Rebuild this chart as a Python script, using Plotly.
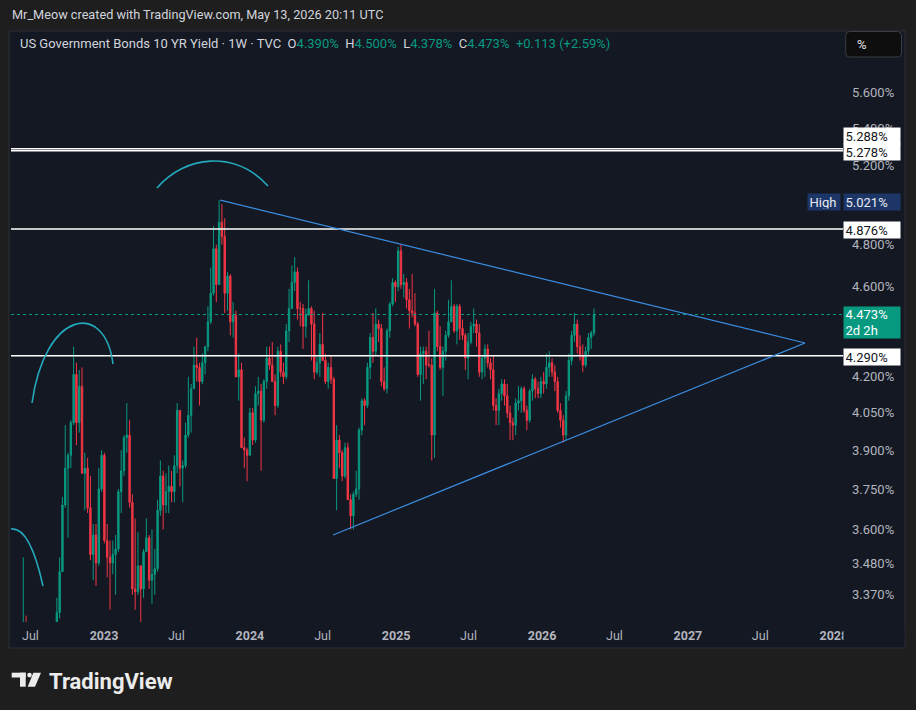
import math
import pandas as pd
import plotly.graph_objects as go

# ---------------- data (weekly candles, % yield) ----------------
first_week = "2022-05-16"
last_week = "2026-05-11"

open_2022 = [2.93,2.79,2.74,2.94,3.16,3.24,3.13,2.89,3.08,2.93,2.77,2.65,2.83,2.84,2.98,3.04,3.19,3.31,3.45,3.69,3.83,3.88,4.01,4.21,4.01,4.16,3.81,3.83,3.68,3.51,3.58,3.48,3.75]
high_2022 = [2.99,2.86,2.96,3.18,3.50,3.30,3.20,3.10,3.10,3.07,2.85,2.87,2.90,3.01,3.11,3.26,3.36,3.50,3.72,4.00,3.89,4.02,4.33,4.26,4.23,4.24,3.89,3.87,3.80,3.62,3.62,3.83,3.90]
low_2022 = [2.78,2.71,2.73,2.94,3.14,3.00,2.79,2.76,2.86,2.75,2.64,2.52,2.74,2.77,2.98,3.04,3.17,3.29,3.45,3.68,3.57,3.83,4.00,3.92,3.97,3.81,3.67,3.66,3.49,3.42,3.40,3.47,3.74]
close_2022 = [2.79,2.74,2.94,3.16,3.24,3.13,2.89,3.08,2.93,2.77,2.65,2.83,2.84,2.98,3.04,3.19,3.31,3.45,3.69,3.83,3.88,4.01,4.21,4.01,4.16,3.81,3.83,3.68,3.51,3.58,3.48,3.75,3.88]

open_2023 = [3.88,3.56,3.50,3.48,3.51,3.53,3.74,3.82,3.95,3.96,3.70,3.39,3.38,3.47,3.39,3.52,3.57,3.42,3.44,3.46,3.67,3.80,3.69,3.74,3.76,3.74,3.84,4.06,3.83,3.84,3.96,4.04,4.15,4.25,4.24,4.18,4.26,4.33,4.44,4.57,4.78,4.61,4.91,4.84,4.57,4.65,4.44,4.47,4.20,4.23,3.91,3.90]
high_2023 = [3.89,3.62,3.56,3.56,3.58,3.75,3.90,3.96,4.09,4.02,3.73,3.64,3.59,3.47,3.53,3.64,3.58,3.60,3.53,3.71,3.86,3.82,3.81,3.84,3.82,3.88,4.09,4.06,3.86,4.01,4.20,4.17,4.33,4.37,4.26,4.30,4.33,4.51,4.69,4.89,4.80,5.021,5.00,4.93,4.67,4.66,4.53,4.49,4.30,4.26,3.95,3.91]
low_2023 = [3.55,3.43,3.32,3.44,3.37,3.52,3.66,3.80,3.89,3.68,3.37,3.32,3.37,3.25,3.36,3.52,3.39,3.34,3.37,3.45,3.65,3.60,3.66,3.66,3.70,3.70,3.81,3.76,3.70,3.83,3.95,3.97,4.15,4.18,4.08,4.17,4.21,4.31,4.43,4.56,4.53,4.61,4.80,4.48,4.49,4.38,4.37,4.20,4.10,3.91,3.83,3.78]
close_2023 = [3.56,3.50,3.48,3.51,3.53,3.74,3.82,3.95,3.96,3.70,3.39,3.38,3.47,3.39,3.52,3.57,3.42,3.44,3.46,3.67,3.80,3.69,3.74,3.76,3.74,3.84,4.06,3.83,3.84,3.96,4.04,4.15,4.25,4.24,4.18,4.26,4.33,4.44,4.57,4.78,4.61,4.91,4.84,4.57,4.65,4.44,4.47,4.20,4.23,3.91,3.90,3.88]

open_2024 = [3.88,4.05,3.94,4.13,4.14,4.02,4.18,4.28,4.25,4.18,4.08,4.31,4.22,4.20,4.40,4.50,4.62,4.67,4.50,4.50,4.42,4.47,4.50,4.43,4.22,4.26,4.34,4.27,4.18,4.24,4.19,3.79,3.94,3.89,3.80,3.91,3.71,3.65,3.73,3.75,3.98,4.10,4.08,4.24,4.37,4.31,4.43,4.41,4.18,4.15,4.40,4.52,4.62]
high_2024 = [4.07,4.07,4.16,4.20,4.17,4.19,4.33,4.33,4.35,4.21,4.33,4.34,4.26,4.43,4.59,4.70,4.74,4.69,4.53,4.52,4.50,4.63,4.51,4.49,4.29,4.39,4.48,4.30,4.26,4.29,4.20,4.00,3.96,3.90,3.93,3.93,3.73,3.74,3.82,3.99,4.11,4.11,4.26,4.39,4.48,4.50,4.45,4.43,4.24,4.41,4.53,4.64,4.63]
low_2024 = [3.88,3.92,3.93,4.08,3.82,4.01,4.15,4.23,4.18,4.04,4.07,4.20,4.17,4.19,4.35,4.50,4.58,4.45,4.42,4.32,4.37,4.47,4.27,4.19,4.21,4.20,4.27,4.17,4.15,4.17,3.79,3.67,3.83,3.78,3.79,3.71,3.60,3.60,3.72,3.71,3.96,4.00,4.07,4.19,4.26,4.29,4.35,4.16,4.14,4.13,4.37,4.51,4.53]
close_2024 = [4.05,3.94,4.13,4.14,4.02,4.18,4.28,4.25,4.18,4.08,4.31,4.22,4.20,4.40,4.50,4.62,4.67,4.50,4.50,4.42,4.47,4.50,4.43,4.22,4.26,4.34,4.27,4.18,4.24,4.19,3.79,3.94,3.89,3.80,3.91,3.71,3.65,3.73,3.75,3.98,4.10,4.08,4.24,4.37,4.31,4.43,4.41,4.18,4.15,4.40,4.52,4.62,4.60]

open_2025 = [4.60,4.77,4.61,4.62,4.54,4.49,4.48,4.43,4.21,4.30,4.31,4.25,4.25,3.96,4.48,4.33,4.24,4.31,4.38,4.44,4.51,4.40,4.51,4.41,4.38,4.28,
             4.35,4.42,4.43,4.39,4.22,4.28,4.32,4.26,4.23,4.08,4.06,4.13,4.17,4.12,4.05,4.01,4.00,4.09,4.10,4.15,4.06,4.02,4.14,4.19,4.15,4.13]
high_2025 = [4.79,4.80,4.66,4.64,4.59,4.66,4.57,4.44,4.33,4.33,4.33,4.40,4.28,4.59,4.49,4.42,4.33,4.40,4.54,4.63,4.52,4.52,4.52,4.45,4.39,4.39,
             4.44,4.50,4.45,4.43,4.29,4.34,4.34,4.28,4.29,4.11,4.15,4.19,4.19,4.17,4.08,4.03,4.11,4.16,4.16,4.16,4.08,4.15,4.21,4.20,4.18,4.20]
low_2025 = [4.58,4.59,4.55,4.50,4.41,4.46,4.42,4.20,4.10,4.17,4.19,4.24,3.86,3.87,4.31,4.23,4.12,4.27,4.37,4.44,4.39,4.34,4.36,4.36,4.23,4.19,
            4.34,4.39,4.33,4.20,4.19,4.20,4.24,4.19,4.06,4.00,4.00,4.10,4.08,4.03,3.94,3.94,3.96,4.06,4.05,4.05,3.98,4.01,4.10,4.11,4.11,4.11]
close_2025 = [4.77,4.61,4.62,4.54,4.49,4.48,4.43,4.21,4.30,4.31,4.25,4.25,3.96,4.48,4.33,4.24,4.31,4.38,4.44,4.51,4.40,4.51,4.41,4.38,4.28,4.35,
              4.42,4.43,4.39,4.22,4.28,4.32,4.26,4.23,4.08,4.06,4.13,4.17,4.12,4.05,4.01,4.00,4.09,4.10,4.15,4.06,4.02,4.14,4.19,4.15,4.13,4.18]

open_2026 = [4.18,4.17,4.24,4.26,4.22,4.18,4.06,4.02,3.96,4.12,4.27,4.38,4.43,4.33,4.29,4.25,4.31,4.37,4.39]
high_2026 = [4.22,4.30,4.31,4.28,4.25,4.20,4.09,4.04,4.14,4.30,4.40,4.48,4.45,4.38,4.34,4.33,4.39,4.40,4.50]
low_2026 = [4.13,4.15,4.20,4.20,4.14,4.05,3.99,3.93,3.94,4.10,4.25,4.35,4.30,4.27,4.22,4.24,4.29,4.32,4.378]
close_2026 = [4.17,4.24,4.26,4.22,4.18,4.06,4.02,3.96,4.12,4.27,4.38,4.43,4.33,4.29,4.25,4.31,4.37,4.39,4.473]

opens = open_2022 + open_2023 + open_2024 + open_2025 + open_2026
highs = high_2022 + high_2023 + high_2024 + high_2025 + high_2026
lows = low_2022 + low_2023 + low_2024 + low_2025 + low_2026
closes = close_2022 + close_2023 + close_2024 + close_2025 + close_2026
weeks = pd.date_range(first_week, last_week, freq="W-MON")
assert len(weeks) == len(opens) == len(highs) == len(lows) == len(closes)

# horizontal levels & labels
level_values = [5.288, 5.278, 4.876, 4.290]
level_labels = ["5.288%", "5.278%", "4.876%", "4.290%"]
last_price = 4.473
last_label = "4.473%<br>2d 2h"
high_value = 5.021
high_label = "5.021%"

# triangle trend lines
tri_upper_x = ["2023-10-19", "2027-10-21"]
tri_upper_y = [5.021, 4.346]
tri_lower_x = ["2024-07-27", "2027-10-21"]
tri_lower_y = [3.580, 4.346]

# axes
y_tick_vals = [5.6, 5.4, 5.2, 4.8, 4.6, 4.2, 4.05, 3.9, 3.75, 3.6, 3.48, 3.37]
y_tick_text = ["5.600%", "5.400%", "5.200%", "4.800%", "4.600%", "4.200%", "4.050%", "3.900%", "3.750%", "3.600%", "3.480%", "3.370%"]
x_tick_vals = ["2022-07-01", "2023-01-01", "2023-07-01", "2024-01-01", "2024-07-01", "2025-01-01",
               "2025-07-01", "2026-01-01", "2026-07-01", "2027-01-01", "2027-07-01", "2028-01-01"]
x_tick_text = ["Jul", "<b>2023</b>", "Jul", "<b>2024</b>", "Jul", "<b>2025</b>",
               "Jul", "<b>2026</b>", "Jul", "<b>2027</b>", "Jul", "<b>2028</b>"]
x_range = ["2022-05-13 07:00", "2028-01-24"]
y_range_prices = [3.2787, 5.950]

header_text = "Mr_Meow created with TradingView.com, May 13, 2026 20:11 UTC"
legend_title = "US Government Bonds 10 YR Yield · 1W · TVC"
legend_fields = [("O", "4.390%"), ("H", "4.500%"), ("L", "4.378%"), ("C", "4.473%")]
legend_change = "+0.113 (+2.59%)"

# ---------------- style ----------------
W, H = 916, 710
L, R, T, B = 11, 843, 32, 622
PAGE_BG = "#1e1e1e"
PANEL_BG = "#141823"
UP = "#089981"
DOWN = "#f23645"
TXT = "#d1d4dc"
AXT = "#b2b5be"
FONT = "Roboto"
BLUE = "#3a8de0"
CYAN = "#24a8bc"
LOGO = "#ececec"


def PX(x):
    return (x - L) / (R - L)


def PY(y):
    return (B - y) / (B - T)


fig = go.Figure()

fig.add_trace(go.Candlestick(
    x=weeks, open=opens, high=highs, low=lows, close=closes,
    increasing=dict(line=dict(color=UP, width=1), fillcolor=UP),
    decreasing=dict(line=dict(color=DOWN, width=1), fillcolor=DOWN),
    whiskerwidth=0, showlegend=False, hoverinfo="skip",
))

for v in level_values:
    fig.add_trace(go.Scatter(x=x_range, y=[v, v], mode="lines",
                             line=dict(color="#ffffff", width=1.5),
                             showlegend=False, hoverinfo="skip"))
fig.add_trace(go.Scatter(x=x_range, y=[last_price, last_price], mode="lines",
                         line=dict(color=UP, width=1, dash="dot"),
                         showlegend=False, hoverinfo="skip"))
fig.add_trace(go.Scatter(x=tri_upper_x, y=tri_upper_y, mode="lines",
                         line=dict(color=BLUE, width=1.2), showlegend=False, hoverinfo="skip"))
fig.add_trace(go.Scatter(x=tri_lower_x, y=tri_lower_y, mode="lines",
                         line=dict(color=BLUE, width=1.2), showlegend=False, hoverinfo="skip"))

shapes = []
shapes.append(dict(type="rect", xref="paper", yref="paper", x0=PX(9), x1=PX(905), y0=PY(648), y1=PY(31),
                   fillcolor=PANEL_BG, line=dict(color="#2c2f36", width=1), layer="below"))


def arc(p0, c1, c2, p3):
    return dict(type="path", xref="paper", yref="paper",
                path=f"M {PX(p0[0])},{PY(p0[1])} C {PX(c1[0])},{PY(c1[1])} {PX(c2[0])},{PY(c2[1])} {PX(p3[0])},{PY(p3[1])}",
                line=dict(color=CYAN, width=1.6), layer="above")


shapes.append(arc((157, 188), (185, 155), (235, 150), (268, 186)))
shapes.append(arc((32, 403), (45, 310), (105, 300), (113, 364)))
shapes.append(arc((11, 529), (25, 527), (35, 550), (43, 586)))


def rounded_rect(x0, y0, x1, y1, r):
    pts = [
        f"M {PX(x0 + r)},{PY(y0)}",
        f"L {PX(x1 - r)},{PY(y0)}", f"Q {PX(x1)},{PY(y0)} {PX(x1)},{PY(y0 + r)}",
        f"L {PX(x1)},{PY(y1 - r)}", f"Q {PX(x1)},{PY(y1)} {PX(x1 - r)},{PY(y1)}",
        f"L {PX(x0 + r)},{PY(y1)}", f"Q {PX(x0)},{PY(y1)} {PX(x0)},{PY(y1 - r)}",
        f"L {PX(x0)},{PY(y0 + r)}", f"Q {PX(x0)},{PY(y0)} {PX(x0 + r)},{PY(y0)}", "Z",
    ]
    return " ".join(pts)


# "%" button
shapes.append(dict(type="path", xref="paper", yref="paper", path=rounded_rect(845.7, 31.5, 901.5, 57, 4),
                   fillcolor="#0e0e0e", line=dict(color="#3a3d45", width=1), layer="above"))

# TradingView logo glyph
shapes.append(dict(type="rect", xref="paper", yref="paper", x0=PX(11.7), x1=PX(25.7), y0=PY(677.5), y1=PY(672.7),
                   fillcolor=LOGO, line=dict(width=0)))
shapes.append(dict(type="rect", xref="paper", yref="paper", x0=PX(20), x1=PX(25.7), y0=PY(686.7), y1=PY(672.7),
                   fillcolor=LOGO, line=dict(width=0)))
shapes.append(dict(type="circle", xref="paper", yref="paper", x0=PX(27.2), x1=PX(31.8), y0=PY(677.4), y1=PY(672.8),
                   fillcolor=LOGO, line=dict(width=0)))
shapes.append(dict(type="path", xref="paper", yref="paper",
                   path=f"M {PX(33.3)},{PY(672.7)} L {PX(41)},{PY(672.7)} L {PX(35)},{PY(686.7)} L {PX(27.7)},{PY(686.7)} Z",
                   fillcolor=LOGO, line=dict(width=0)))

ann = []
ann.append(dict(text=header_text, xref="paper", yref="paper", x=PX(10), y=PY(14), xanchor="left", yanchor="middle",
                showarrow=False, font=dict(family=FONT, size=12.7, color=TXT)))
legend_html = legend_title + "&nbsp;&nbsp;" + "&nbsp;&nbsp;".join(
    f"{k}<span style='color:{UP}'>{v}</span>" for k, v in legend_fields) + \
    f"&nbsp;&nbsp;<span style='color:{UP}'>{legend_change}</span>"
ann.append(dict(text=legend_html, xref="paper", yref="paper", x=PX(18), y=PY(43), xanchor="left", yanchor="middle",
                showarrow=False, font=dict(family=FONT, size=13, color=TXT)))
ann.append(dict(text="%", xref="paper", yref="paper", x=PX(855), y=PY(44.5), xanchor="left", yanchor="middle",
                showarrow=False, font=dict(family=FONT, size=13, color="#e0e3eb")))
# cover for clipped 2028
ann.append(dict(text="&nbsp;", xref="paper", yref="paper", x=PX(843.5), y=PY(636), xanchor="left", yanchor="middle",
                showarrow=False, width=60, height=20, bgcolor=PANEL_BG, borderpad=0))


def price_box(text, price, shift, bg, fg, width=53, height=13):
    return dict(text=text, xref="paper", yref="y", x=PX(843), y=math.log10(price), yshift=shift,
                xanchor="left", yanchor="middle", showarrow=False, align="left",
                width=width, height=height, borderpad=1.5, bgcolor=bg,
                font=dict(family=FONT, size=13, color=fg))


ann.append(price_box(level_labels[0], level_values[0], 13, "#ffffff", "#131722"))
ann.append(price_box(level_labels[1], level_values[1], -1.5, "#ffffff", "#131722"))
ann.append(price_box(level_labels[2], level_values[2], -1, "#ffffff", "#131722"))
ann.append(price_box(level_labels[3], level_values[3], -1.5, "#ffffff", "#131722"))
ann.append(price_box(high_label, high_value, -2, "#1c3668", "#e8eaf0"))
ann.append(dict(text="High", xref="paper", yref="y", x=PX(841), y=math.log10(high_value), yshift=-2,
                xanchor="right", yanchor="middle", showarrow=False, align="left",
                width=29, height=13, borderpad=1.5, bgcolor="#1c3668",
                font=dict(family=FONT, size=13, color="#e8eaf0")))
ann.append(price_box(last_label, last_price, -8.5, UP, "#ffffff", height=28))

ann.append(dict(text="TradingView", xref="paper", yref="paper", x=PX(46.5), y=PY(681), xanchor="left", yanchor="middle",
                showarrow=False, font=dict(family=FONT, size=22, color=LOGO, weight=700)))

fig.update_layout(
    width=W, height=H,
    margin=dict(l=L, r=W - R, t=T, b=H - B),
    paper_bgcolor=PAGE_BG, plot_bgcolor=PANEL_BG,
    showlegend=False,
    shapes=shapes, annotations=ann,
    font=dict(family=FONT, color=AXT),
    xaxis=dict(type="date", range=x_range, tickvals=x_tick_vals, ticktext=x_tick_text,
               showgrid=False, zeroline=False, showline=False, ticks="",
               tickfont=dict(family=FONT, size=12.5, color=AXT), ticklabelstandoff=4,
               rangeslider=dict(visible=False), fixedrange=True),
    yaxis=dict(type="log", side="right", range=[math.log10(y_range_prices[0]), math.log10(y_range_prices[1])],
               tickvals=y_tick_vals, ticktext=y_tick_text, showgrid=False, zeroline=False, showline=False,
               ticks="", tickfont=dict(family=FONT, size=13, color=AXT), ticklabelstandoff=8,
               fixedrange=True),
)

fig.write_html("out.html", config={"displayModeBar": False},
               post_script="document.body.style.margin='0';document.body.style.overflow='hidden';document.body.style.background='#1e1e1e';")
